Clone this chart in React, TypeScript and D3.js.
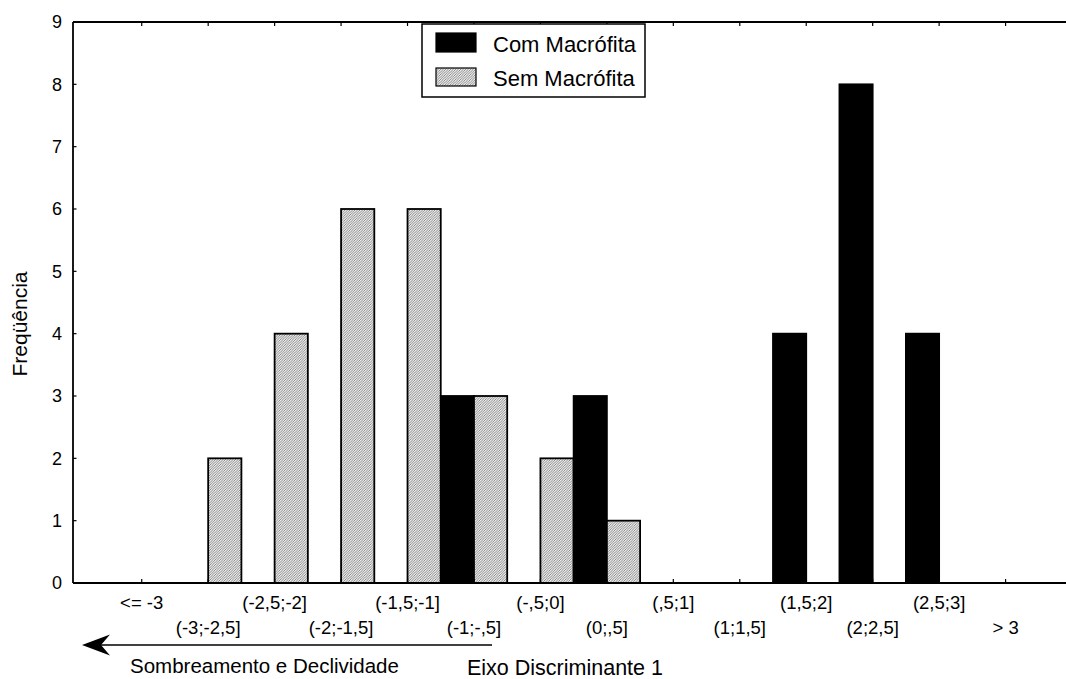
import React from 'react';
import * as d3 from 'd3';

const categories = ["<= -3", "(-3;-2,5]", "(-2,5;-2]", "(-2;-1,5]", "(-1,5;-1]", "(-1;-,5]", "(-,5;0]", "(0;,5]", "(,5;1]", "(1;1,5]", "(1,5;2]", "(2;2,5]", "(2,5;3]", "> 3"];
const comMacrofita = [0, 0, 0, 0, 0, 3, 0, 3, 0, 0, 4, 8, 4, 0];
const semMacrofita = [0, 2, 4, 6, 6, 3, 2, 1, 0, 0, 0, 0, 0, 0];
const yTicks = [0, 1, 2, 3, 4, 5, 6, 7, 8, 9];
const seriesNames = ["Com Macrófita", "Sem Macrófita"];

const FONT = "'Liberation Sans', Arial, Helvetica, sans-serif";

export default function App() {
  const W = 1066, H = 679;
  const left = 73, top = 22, bottom = 583, right = 1080;
  const x = d3.scaleBand<string>().domain(categories).range([108.5, 1038.8]).padding(0);
  const y = d3.scaleLinear().domain([0, 9]).range([bottom, top]);
  const bw = x.bandwidth() / 2;
  const cx = (c: string) => (x(c) as number) + x.bandwidth() / 2;

  return (
    <svg width={W} height={H} style={{ position: 'absolute', left: 0, top: 0, background: '#fff' }} fontFamily={FONT}>
      <defs>
        <pattern id="hatch" patternUnits="userSpaceOnUse" width="2.5" height="2.5">
          <rect width="2.5" height="2.5" fill="#ededed" />
          <path d="M-0.5,0.5 L0.5,-0.5 M0,2.5 L2.5,0 M2,3 L3,2" stroke="#6a6a6a" strokeWidth="0.75" />
        </pattern>
      </defs>
      <rect x={0} y={0} width={W} height={H} fill="#fff" />
      {/* bars */}
      {categories.map((c, i) => (
        <g key={c}>
          <rect x={cx(c) - bw} y={y(comMacrofita[i])} width={bw} height={y(0) - y(comMacrofita[i])}
            fill="#000" stroke="#000" strokeWidth={1.8} />
          <rect x={cx(c)} y={y(semMacrofita[i])} width={bw} height={y(0) - y(semMacrofita[i])}
            fill="url(#hatch)" stroke="#000" strokeWidth={1.8} />
        </g>
      ))}
      {/* frame */}
      <line x1={left} y1={top} x2={left} y2={bottom} stroke="#000" strokeWidth={1.8} />
      <line x1={left} y1={top} x2={right} y2={top} stroke="#000" strokeWidth={2} />
      <line x1={left} y1={bottom} x2={right} y2={bottom} stroke="#000" strokeWidth={1.8} />
      {/* y ticks */}
      {yTicks.map(t => (
        <g key={t}>
          <line x1={left} x2={left + 3.5} y1={y(t)} y2={y(t)} stroke="#000" strokeWidth={1.2} />
          <text x={62} y={y(t)} dy="0.36em" textAnchor="end" fontSize={18}>{t}</text>
        </g>
      ))}
      {/* x ticks top/bottom */}
      {categories.map(c => (
        <g key={'t' + c}>
          <line x1={cx(c)} x2={cx(c)} y1={top} y2={top + 4} stroke="#000" strokeWidth={1.2} />
          <line x1={cx(c)} x2={cx(c)} y1={bottom} y2={bottom - 4} stroke="#000" strokeWidth={1.2} />
        </g>
      ))}
      {/* category labels */}
      {categories.map((c, i) => (
        <text key={'l' + c} x={cx(c)} y={i % 2 === 0 ? 609 : 634} textAnchor="middle" fontSize={18.5}>{c}</text>
      ))}
      {/* y title */}
      <text transform={`translate(27,324) rotate(-90)`} textAnchor="middle" fontSize={21}>Freqüência</text>
      {/* legend */}
      <rect x={422} y={24} width={223} height={73} fill="#fff" stroke="#000" strokeWidth={1.5} />
      <rect x={436} y={33} width={40} height={19} fill="#000" stroke="#000" strokeWidth={1.2} />
      <rect x={436} y={68} width={40} height={18} fill="url(#hatch)" stroke="#000" strokeWidth={1.2} />
      <text x={493} y={52} fontSize={22}>{seriesNames[0]}</text>
      <text x={493} y={86} fontSize={22}>{seriesNames[1]}</text>
      {/* arrow */}
      <line x1={100} y1={645} x2={492} y2={645} stroke="#000" strokeWidth={1.6} />
      <path d="M82,645 L110,634.5 L101,645 L110,655.5 Z" fill="#000" />
      <text x={130} y={673} fontSize={20.5}>Sombreamento e Declividade</text>
      <text x={467} y={675} fontSize={21.5}>Eixo Discriminante 1</text>
    </svg>
  );
}
